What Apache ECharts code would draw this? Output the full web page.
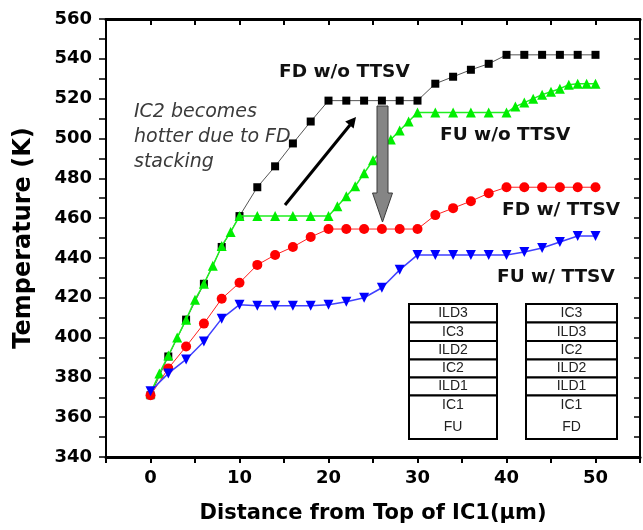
<!DOCTYPE html>
<html>
<head>
<meta charset="utf-8">
<script src="https://cdn.jsdelivr.net/npm/echarts@6/dist/echarts.min.js"></script>
<style>
html,body{margin:0;padding:0;background:#fff;}
#chart{width:643px;height:530px;}
</style>
</head>
<body>
<div id="chart"></div>
<script>
// ---- data ----
const xStep2 = [0,2,4,6,8,10,12,14,16,18,20,22,24,26,28,30,32,34,36,38,40,42,44,46,48,50];
const fdNoTTSV = [371,390.5,409,427,445.5,461,475.5,486,497.5,508.5,519,519,519,519,519,519,527.5,531,534.5,537.5,542,542,542,542,542,542];
const xFuNoTTSV = [0,1,2,3,4,5,6,7,8,9,10,12,14,16,18,20,21,22,23,24,25,26,27,28,29,30,32,34,36,38,40,41,42,43,44,45,46,47,48,49,50];
const fuNoTTSV = [372,382,391,400,409,419,427,436,446,453,461,461,461,461,461,461,466,471,476,482.5,489,494,499.5,504,508.5,513,513,513,513,513,513,516,518,520,522,523.5,525,527,527.5,527.5,527.5];
const fdTTSV = [371,384.5,395.5,407,419.5,427.5,436.5,441.5,445.5,450.5,454.5,454.5,454.5,454.5,454.5,454.5,461.5,465,468.5,472.5,475.5,475.5,475.5,475.5,475.5,475.5];
const fuTTSV = [373,382,389,398,409.5,416.5,416,416,416,416,416.5,418,420,425,434,441.5,441.5,441.5,441.5,441.5,441.5,443,445,448,451,451];
const seriesNames = ['FD w/o TTSV','FU w/o TTSV','FD w/ TTSV','FU w/ TTSV'];
const fuStack = ['ILD3','IC3','ILD2','IC2','ILD1','IC1'];
const fdStack = ['IC3','ILD3','IC2','ILD2','ILD1','IC1'];
const xTitle = 'Distance from Top of IC1(\u03bcm)';
const yTitle = 'Temperature (K)';

function pairs(xs, ys){ return xs.map((x,i)=>[x, ys[i]]); }

const chart = echarts.init(document.getElementById('chart'), null, {renderer:'canvas'});
const F = 'DejaVu Sans';
const axisFont = {fontFamily:F, fontWeight:'bold', fontSize:18, color:'#000'};

// stack diagram graphics
function stackGraphic(labels, bottomLabel, left, width){
  const tops = [304, 322.5, 341, 359.5, 377.5, 395.5];
  const bottoms = [322.5, 341, 359.5, 377.5, 395.5, 439];
  const els = [];
  labels.forEach((lab,i)=>{
    els.push({type:'rect', shape:{x:left, y:tops[i], width:width, height:bottoms[i]-tops[i]},
      style:{fill:'#fff', stroke:'#000', lineWidth:2}, z:50});
    const cy = i < 5 ? (tops[i]+bottoms[i])/2 : 405;
    els.push({type:'text', x:left+width/2, y:cy, z:51,
      style:{text:lab, fontFamily:'Liberation Sans', fontSize:14, fill:'#222', align:'center', verticalAlign:'middle'}});
  });
  els.push({type:'text', x:left+width/2, y:427, z:51,
    style:{text:bottomLabel, fontFamily:'Liberation Sans', fontSize:14, fill:'#222', align:'center', verticalAlign:'middle'}});
  return els;
}

const labelStyle = {fontFamily:F, fontWeight:'bold', fontSize:18.5, fill:'#111', align:'left', verticalAlign:'middle'};
const italicStyle = {fontFamily:F, fontStyle:'italic', fontSize:19, fill:'#3a3a3a', align:'left', verticalAlign:'middle'};

const graphics = [
  {type:'text', x:279, y:72, z:40, style:Object.assign({text:seriesNames[0]}, labelStyle)},
  {type:'text', x:440, y:135, z:40, style:Object.assign({text:seriesNames[1]}, labelStyle)},
  {type:'text', x:502, y:210, z:40, style:Object.assign({text:seriesNames[2]}, labelStyle)},
  {type:'text', x:497, y:277, z:40, style:Object.assign({text:seriesNames[3]}, labelStyle)},
  {type:'text', x:134, y:112, z:40, style:Object.assign({text:'IC2 becomes'}, italicStyle)},
  {type:'text', x:134, y:137, z:40, style:Object.assign({text:'hotter due to FD'}, italicStyle)},
  {type:'text', x:134, y:162, z:40, style:Object.assign({text:'stacking'}, italicStyle)},
  // black arrow
  {type:'line', z:40, shape:{x1:285, y1:205, x2:350, y2:125}, style:{stroke:'#000', lineWidth:3}},
  {type:'polygon', z:40, shape:{points:[[356,117],[353.6,128.5],[345.2,121.5]]}, style:{fill:'#000'}},
  // gray arrow
  {type:'polygon', z:40, shape:{points:[[377,106],[388,106],[388,193],[392.5,193],[382.5,222],[372.5,193],[377,193]]},
    style:{fill:'#858585', stroke:'#3a3a3a', lineWidth:1}}
].concat(stackGraphic(fuStack,'FU',409,88)).concat(stackGraphic(fdStack,'FD',526,91));

const option = {
  backgroundColor:'#fff',
  animation:false,
  grid:{left:106, right:2, top:19, bottom:73, containLabel:false},
  xAxis:[
    {type:'value', position:'bottom', min:-5, max:55, interval:5,
     axisLine:{show:true, onZero:false, lineStyle:{color:'#000', width:3}},
     axisTick:{show:true, inside:false, length:6, lineStyle:{color:'#000', width:2}},
     axisLabel:Object.assign({margin:12, formatter:v=> (v%10===0 ? String(v) : '')}, axisFont),
     splitLine:{show:false},
     name:xTitle, nameLocation:'middle', nameGap:46,
     nameTextStyle:{fontFamily:F, fontWeight:'bold', fontSize:21, color:'#000'}},
    {type:'value', position:'top', min:-5, max:55, interval:5,
     axisLine:{show:true, onZero:false, lineStyle:{color:'#000', width:3}},
     axisTick:{show:true, inside:true, length:6, lineStyle:{color:'#000', width:2}},
     axisLabel:{show:false}, splitLine:{show:false}}
  ],
  yAxis:[
    {type:'value', position:'left', min:340, max:560, interval:10,
     axisLine:{show:true, onZero:false, lineStyle:{color:'#000', width:2}},
     axisTick:{show:true, inside:false, length:7, lineStyle:{color:'#000', width:1.5}},
     axisLabel:Object.assign({margin:14, formatter:v=> (v%20===0 ? String(v) : '')}, axisFont),
     splitLine:{show:false},
     name:yTitle, nameLocation:'middle', nameGap:70, nameRotate:90,
     nameTextStyle:{fontFamily:F, fontWeight:'bold', fontSize:24, color:'#000'}},
    {type:'value', position:'right', min:340, max:560, interval:10,
     axisLine:{show:true, onZero:false, lineStyle:{color:'#000', width:2}},
     axisTick:{show:true, inside:true, length:6, lineStyle:{color:'#000', width:1.5}},
     axisLabel:{show:false}, splitLine:{show:false}}
  ],
  series:[
    {name:seriesNames[0], type:'line', data:pairs(xStep2, fdNoTTSV), symbol:'rect', symbolSize:8,
     itemStyle:{color:'#000'}, lineStyle:{color:'#555', width:1}, z:2},
    {name:seriesNames[1], type:'line', data:pairs(xFuNoTTSV, fuNoTTSV), symbol:'triangle', symbolSize:10,
     itemStyle:{color:'#00ee00'}, lineStyle:{color:'#20ee20', width:1.5}, z:3},
    {name:seriesNames[2], type:'line', data:pairs(xStep2, fdTTSV), symbol:'circle', symbolSize:10,
     itemStyle:{color:'#ff0000'}, lineStyle:{color:'#ff2020', width:1}, z:4},
    {name:seriesNames[3], type:'line', data:pairs(xStep2, fuTTSV), symbol:'triangle', symbolRotate:180, symbolSize:10,
     itemStyle:{color:'#0000ff'}, lineStyle:{color:'#4040ff', width:1.5}, z:5}
  ],
  graphic:graphics
};
chart.setOption(option);
</script>
</body>
</html>
